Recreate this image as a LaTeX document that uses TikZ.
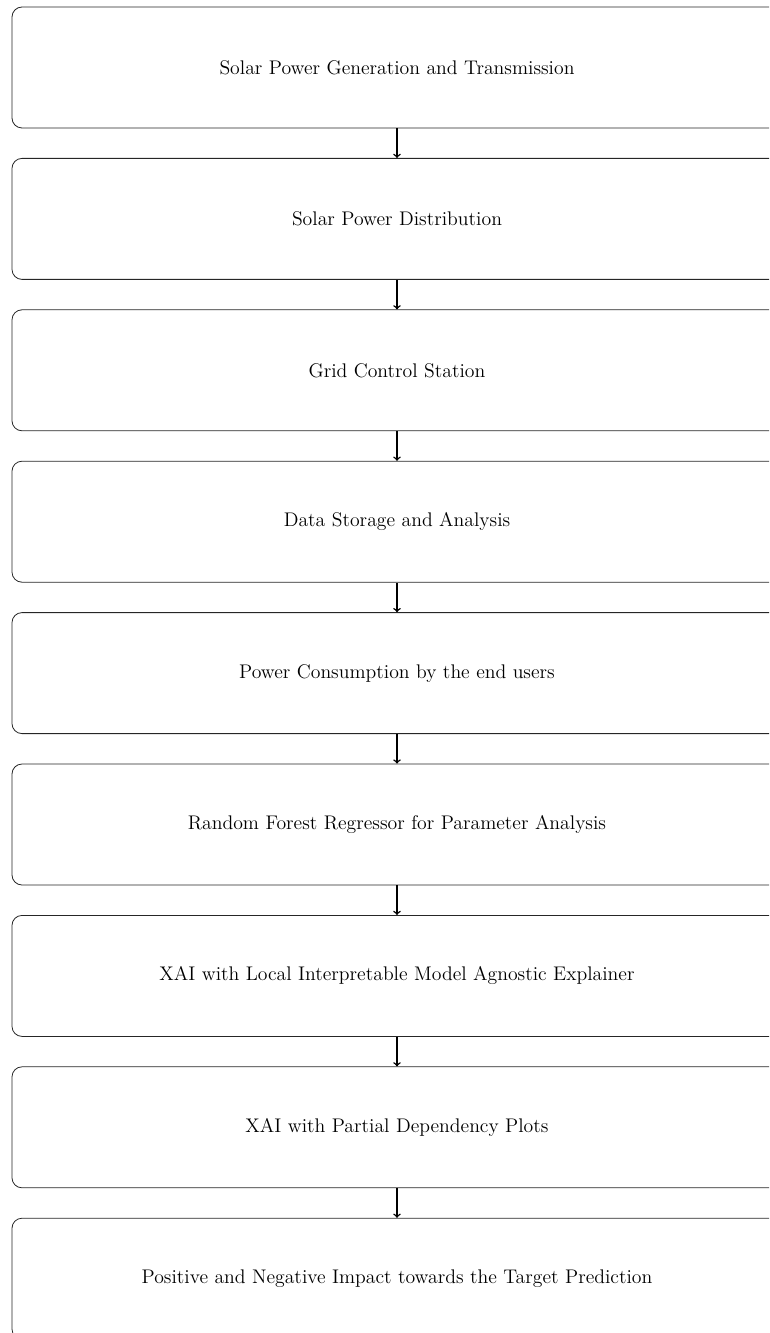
\documentclass[tikz,border=0pt]{standalone}
\usepackage{tikz}
\tikzstyle{box}=[shape=rectangle,draw=black!85,semithick,rounded corners=7.5pt,minimum width=577.5pt,minimum height=90.75pt,font=\fontsize{14.8}{18}\selectfont]
\tikzstyle{from}=[<-,>=to,line width=1.1pt]

\begin{document}
\begin{tikzpicture}[x=0.75pt,y=-0.75pt]
        \useasboundingbox (0,0) rectangle (769,1333);
        \clip (0,0) rectangle (769,1333);
        \node[box] (A) at (397, 67.5) {Solar Power Generation and Transmission};
        \node[box] (B) at (397, 218.9) {Solar Power Distribution}
            edge[from] (A)
        ;
        \node[box] (C) at (397, 370.3) {Grid Control Station}
            edge[from] (B)
        ;
        \node[box] (D) at (397, 521.7) {Data Storage and Analysis}
            edge[from] (C)
        ;
        \node[box] (E) at (397, 673.1) {Power Consumption by the end users}
            edge[from] (D)
        ;
        \node[box] (F) at (397, 824.5) {Random Forest Regressor for Parameter Analysis}
            edge[from] (E)
        ;
        \node[box] (G) at (397, 975.9) {XAI with Local Interpretable Model Agnostic Explainer}
            edge[from] (F)
        ;
        \node[box] (H) at (397, 1127.3) {XAI with Partial Dependency Plots}
            edge[from] (G)
        ;
        \node[box] (I) at (397, 1278.7) {Positive and Negative Impact towards the Target Prediction}
            edge[from] (H)
        ;
    \end{tikzpicture}
\end{document}
